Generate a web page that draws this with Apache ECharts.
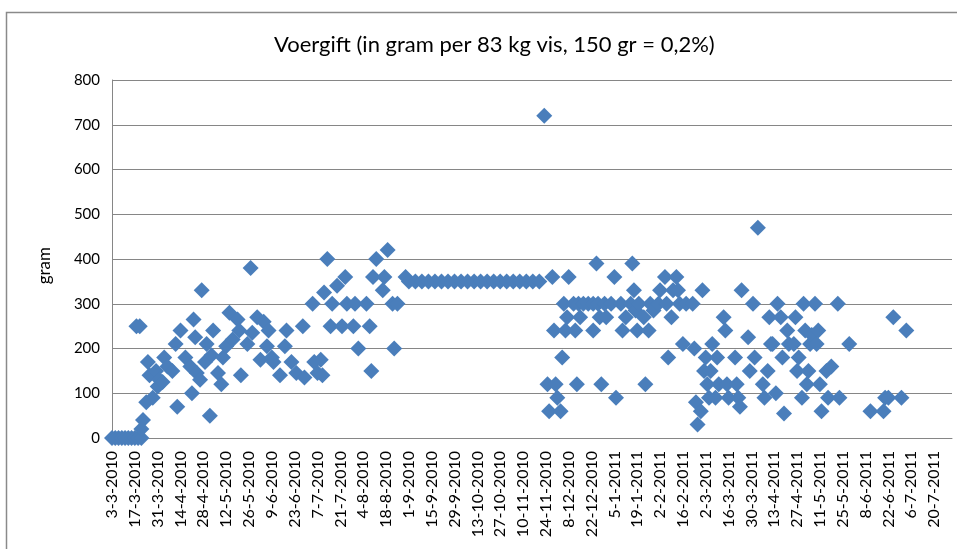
<!DOCTYPE html>
<html><head><meta charset="utf-8">
<script src="https://cdn.jsdelivr.net/npm/echarts@6/dist/echarts.min.js"></script>
<style>html,body{margin:0;padding:0;background:#fff}#c{width:957px;height:549px}</style>
</head><body><div id="c"></div>
<script>
// x values: days since the first date (3-3-2010); y values: grams of feed
const startDateUTC = Date.UTC(2010, 2, 3);
const tickDays = 14;
const axisMaxDays = 515;
const titleText = 'Voergift (in gram per 83 kg vis, 150 gr = 0,2%)';
const yAxisName = 'gram';

const days = [
  0,2,4,6,8,10,12,14,16,18,
  15,17,18,19,21,22,23,25,27,28,29,31,32,34,37,39,40,42,45,48,49,50,51,52,54,55,57,58,60,61,62,65,67,68,70,72,74,77,78,79,83,85,86,89,91,93,95,
  96,98,99,103,106,107,110,113,117,118,123,124,126,128,129,130,132,134,135,138,141,143,144,148,149,151,156,158,159,160,162,166,167,169,172,173,175,180,
  182,186,190,194,198,202,206,210,214,218,222,226,230,234,238,242,246,250,254,258,262,
  265,267,268,270,271,272,273,275,276,277,278,279,280,283,284,285,286,287,289,292,295,295,297,298,299,300,302,
  303,306,308,309,312,313,315,318,319,320,321,322,323,326,327,329,330,332,335,336,339,340,341,343,344,346,347,348,350,352,356,357,358,359,361,362,363,364,365,366,367,368,370,371,372,375,376,377,378,382,383,384,385,386,390,391,393,394,396,399,400,402,403,404,
  405,407,408,410,411,412,414,415,418,419,420,421,423,424,425,426,427,428,429,431,432,433,434,435,438,439,441,445,446,452,465,473,474,476,479,484,487
];
const grams = [
  0,0,0,0,0,0,0,0,0,0,
  250,250,20,40,80,170,140,90,150,115,130,125,180,160,150,210,70,240,180,160,100,265,225,145,130,330,170,210,50,185,240,145,120,180,205,280,220,265,240,140,210,380,235,270,175,260,205,
  240,180,170,140,205,240,170,145,250,135,300,170,145,175,140,325,400,250,300,340,250,360,300,250,300,200,300,250,150,360,400,330,360,420,300,200,300,360,
  350,350,350,350,350,350,350,350,350,350,350,350,350,350,350,350,350,350,350,350,350,
  720,120,60,360,240,120,90,60,180,300,240,270,360,300,240,120,300,270,300,300,240,300,390,300,270,120,300,
  270,300,360,90,300,240,270,300,390,330,285,240,300,270,120,240,300,285,300,330,360,300,180,270,330,360,330,300,210,300,300,200,80,30,60,330,150,180,120,90,150,210,90,180,120,270,240,120,90,180,120,90,70,330,225,150,300,180,470,120,90,150,270,210,
  210,100,300,270,180,55,240,210,210,270,150,180,90,300,240,120,150,210,230,300,210,240,120,60,150,90,160,300,90,210,60,60,90,90,270,90,240
];

function dayLabel(v) {
  const d = new Date(startDateUTC + v * 86400000);
  return d.getUTCDate() + '-' + (d.getUTCMonth() + 1) + '-' + d.getUTCFullYear();
}

const chart = echarts.init(document.getElementById('c'), null, {renderer: 'canvas'});
const font = 'Lato, "Liberation Sans", sans-serif';
chart.setOption({
  animation: false,
  backgroundColor: '#ffffff',
  textStyle: {fontFamily: font, color: '#000'},
  graphic: [{
    type: 'rect', left: 4, top: 10, silent: true,
    shape: {width: 1000, height: 600},
    style: {fill: 'none', stroke: '#8a8a8a', lineWidth: 1.5}
  }, {
    type: 'text', left: 36, top: 247, silent: true, rotation: Math.PI / 2,
    style: {text: yAxisName, font: '17px Lato, sans-serif', fill: '#000'}
  }],
  title: {
    text: titleText, left: 269, top: 29,
    textStyle: {fontFamily: font, fontSize: 22, fontWeight: 'normal', color: '#000'}
  },
  grid: {left: 112, right: 5, top: 80, bottom: 111, containLabel: false, outerBoundsMode: 'none'},
  xAxis: {
    type: 'value', min: 0, max: axisMaxDays, interval: tickDays,
    axisLine: {show: true, onZero: false, lineStyle: {color: '#868686', width: 1}},
    axisTick: {show: false},
    splitLine: {show: false},
    axisLabel: {rotate: 90, margin: 13, fontSize: 16, color: '#000', fontFamily: font,
      showMaxLabel: false, formatter: dayLabel}
  },
  yAxis: {
    type: 'value', min: 0, max: 800, interval: 100,
    axisLine: {show: true, lineStyle: {color: '#868686', width: 1}},
    axisTick: {show: false},
    splitLine: {show: true, lineStyle: {color: '#868686', width: 1}},
    axisLabel: {margin: 12, fontSize: 15, color: '#000', fontFamily: font}
  },
  series: [{
    type: 'scatter',
    symbol: 'diamond',
    symbolSize: 16,
    itemStyle: {color: '#4A7EBB', opacity: 1},
    data: days.map((d, i) => [d, grams[i]])
  }]
});
</script>
</body></html>
